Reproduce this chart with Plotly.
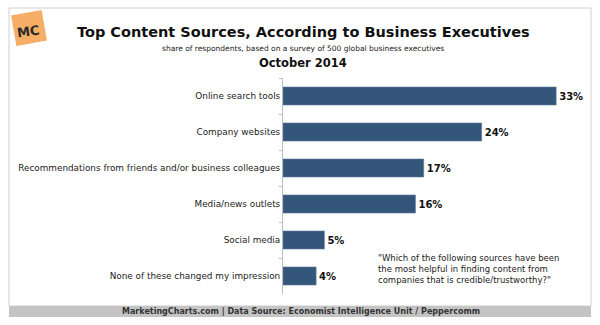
import plotly.graph_objects as go
import math

categories = [
    "Online search tools",
    "Company websites",
    "Recommendations from friends and/or business colleagues",
    "Media/news outlets",
    "Social media",
    "None of these changed my impression",
]
values = [33, 24, 17, 16, 5, 4]

title = "Top Content Sources, According to Business Executives"
subtitle = "share of respondents, based on a survey of 500 global business executives"
date_label = "October 2014"
note = ('"Which of the following sources have been<br>the most helpful in finding content from<br>'
        'companies that is credible/trustworthy?"')
footer = "MarketingCharts.com | Data Source: Economist Intelligence Unit / Peppercomm"

W, H = 600, 325
ML, MR, MT, MB = 283, 19, 78, 31
PW, PH = W - ML - MR, H - MT - MB


def px(x):
    return (x - ML) / PW


def py(y):
    return (H - MB - y) / PH


FONT = "DejaVu Sans"

fig = go.Figure(
    go.Bar(
        x=values,
        y=categories,
        orientation="h",
        marker=dict(color="#34567B", line=dict(color="#5F7C9C", width=0.6)),
        width=0.5,
        text=[f"{v}%" for v in values],
        textposition="outside",
        textfont=dict(family=FONT, size=10, color="#111111", weight="bold"),
        cliponaxis=False,
        hoverinfo="skip",
    )
)

shapes = []
# outer frame
shapes.append(dict(type="rect", xref="paper", yref="paper",
                   x0=px(9), x1=px(591), y0=py(306), y1=py(8),
                   line=dict(color="#D0D0D0", width=1), fillcolor="rgba(0,0,0,0)", layer="below"))
# footer band
shapes.append(dict(type="rect", xref="paper", yref="paper",
                   x0=px(9), x1=px(591), y0=py(317), y1=py(306),
                   line=dict(width=0), fillcolor="#C4C4C4", layer="below"))
# logo (rotated square)
cx, cy, s, ang = 29, 28, 31, math.radians(-10)
pts = []
for dx, dy in [(-1, -1), (1, -1), (1, 1), (-1, 1)]:
    x = cx + (dx * math.cos(ang) - dy * math.sin(ang)) * s / 2
    y = cy + (dx * math.sin(ang) + dy * math.cos(ang)) * s / 2
    pts.append((px(x), py(y)))
path = "M " + " L ".join(f"{a},{b}" for a, b in pts) + " Z"
shapes.append(dict(type="path", xref="paper", yref="paper", path=path,
                   fillcolor="#F6AE66", line=dict(width=0), layer="below"))

annotations = [
    dict(text=f"<b>{title}</b>", x=px(303), y=py(32), xref="paper", yref="paper",
         showarrow=False, font=dict(family=FONT, size=14.5, color="#111111"),
         xanchor="center", yanchor="middle"),
    dict(text=subtitle, x=px(303), y=py(48), xref="paper", yref="paper",
         showarrow=False, font=dict(family=FONT, size=7.5, color="#222222"),
         xanchor="center", yanchor="middle"),
    dict(text=f"<b>{date_label}</b>", x=px(303), y=py(63), xref="paper", yref="paper",
         showarrow=False, font=dict(family=FONT, size=11.5, color="#111111"),
         xanchor="center", yanchor="middle"),
    dict(text=note, x=px(376), y=py(269), xref="paper", yref="paper",
         showarrow=False, align="left", font=dict(family=FONT, size=8.5, color="#222222"),
         xanchor="left", yanchor="middle"),
    dict(text=f"<b>{footer}</b>", x=px(301), y=py(311.5), xref="paper", yref="paper",
         showarrow=False, font=dict(family=FONT, size=8, color="#333333"),
         xanchor="center", yanchor="middle"),
    dict(text="<b>MC</b>", x=px(28), y=py(31), xref="paper", yref="paper",
         showarrow=False, textangle=-8, font=dict(family=FONT, size=13, color="#2a2a2a"),
         xanchor="center", yanchor="middle"),
]

fig.update_layout(
    width=W, height=H,
    margin=dict(l=ML, r=MR, t=MT, b=MB),
    paper_bgcolor="white", plot_bgcolor="white",
    showlegend=False,
    bargap=0.5,
    shapes=shapes,
    annotations=annotations,
    xaxis=dict(range=[0, 36], visible=False, fixedrange=True),
    yaxis=dict(
        autorange="reversed",
        showline=True, linecolor="#BDBDBD", linewidth=1,
        ticks="outside", tickson="boundaries", ticklen=3, tickcolor="#BDBDBD",
        tickfont=dict(family=FONT, size=8.85, color="#222222"),
        showgrid=False, fixedrange=True,
    ),
)

fig.write_html("out.html")
